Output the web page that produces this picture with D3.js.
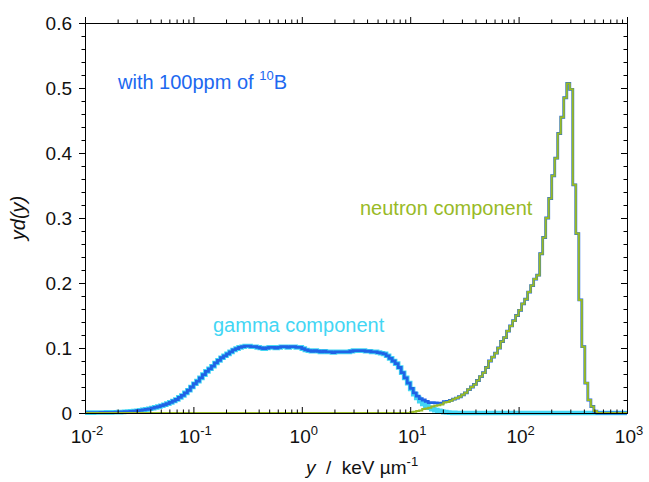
<!DOCTYPE html>
<html>
<head>
<meta charset="utf-8">
<script src="https://cdn.jsdelivr.net/npm/d3@7"></script>
<style>
  html, body { margin: 0; padding: 0; background: #fff; }
  svg { display: block; font-family: "Liberation Sans", Arial, sans-serif; }
</style>
</head>
<body>
<svg id="chart" width="649" height="482"></svg>
<script>
// ---------- data ----------
const binsPerDecade = 36;            // histogram bins per decade of y
const xDomain = [1e-2, 1e3];
const yDomain = [0, 0.6];
const xTickExponents = [-2, -1, 0, 1, 2, 3];
const yTickValues = [0, 0.1, 0.2, 0.3, 0.4, 0.5, 0.6];
const yTickLabels = ["0", "0.1", "0.2", "0.3", "0.4", "0.5", "0.6"];

// gamma component, starting at bin 0 (y = 0.01 keV/um)
const gammaStartBin = 0;
const gammaValues = [
  0.0005, 0.0006, 0.0006, 0.0007, 0.0007, 0.0008, 0.0008, 0.0009, 0.0010, 0.0011,
  0.0012, 0.0014, 0.0016, 0.0019, 0.0022, 0.0026, 0.0030, 0.0035, 0.0041, 0.0048,
  0.0056, 0.0065, 0.0075, 0.0086, 0.0098, 0.0112, 0.0127, 0.0144, 0.0163, 0.0185,
  0.0208, 0.024, 0.027, 0.031, 0.035, 0.040, 0.045, 0.049, 0.054, 0.059,
  0.064, 0.068, 0.072, 0.077, 0.081, 0.085, 0.088, 0.091, 0.094, 0.097,
  0.099, 0.101, 0.102, 0.103, 0.103, 0.102, 0.102, 0.101, 0.100, 0.099,
  0.100, 0.101, 0.101, 0.100, 0.101, 0.102, 0.102, 0.101, 0.102, 0.102,
  0.101, 0.101, 0.099, 0.097, 0.096, 0.095, 0.096, 0.095, 0.094, 0.095,
  0.094, 0.094, 0.093, 0.094, 0.094, 0.094, 0.094, 0.094, 0.095, 0.096,
  0.096, 0.096, 0.096, 0.095, 0.095, 0.094, 0.094, 0.093, 0.092, 0.091,
  0.088, 0.084, 0.080, 0.076, 0.070, 0.062, 0.054, 0.046, 0.037, 0.029,
  0.023, 0.018, 0.014, 0.011, 0.008, 0.006, 0.0045, 0.0032, 0.0022, 0.0014,
  0.0008, 0.0004, 0.0002
];

// neutron component, starting at bin 108 (y = 10 keV/um)
const neutronStartBin = 108;
const neutronValues = [
  0.001, 0.002, 0.003, 0.004, 0.006, 0.007, 0.008, 0.010, 0.011, 0.012,
  0.013, 0.016, 0.017, 0.019, 0.021, 0.023, 0.025, 0.028, 0.031, 0.036,
  0.040, 0.044, 0.050, 0.056, 0.062, 0.070, 0.080, 0.086, 0.092, 0.100,
  0.110, 0.116, 0.126, 0.134, 0.142, 0.150, 0.158, 0.168, 0.175, 0.186,
  0.196, 0.206, 0.212, 0.245, 0.270, 0.300, 0.330, 0.365, 0.392, 0.430,
  0.455, 0.485, 0.507, 0.498, 0.351, 0.276, 0.174, 0.102, 0.046, 0.020,
  0.010, 0.003
];

// ---------- layout ----------
const margin = { left: 85, right: 627, top: 23, bottom: 413 };
const colors = {
  gamma: "#43d6f4",
  total: "#1f63e6",
  neutron: "#98ba26",
  note: "#2068f0",
  axis: "#000"
};

const svg = d3.select("#chart");
const x = d3.scaleLog().domain(xDomain).range([margin.left, margin.right]);
const y = d3.scaleLinear().domain(yDomain).range([margin.bottom, margin.top]);

// bins
const nDecades = Math.log10(xDomain[1]) - Math.log10(xDomain[0]);
const nBins = Math.round(nDecades * binsPerDecade);
const edge = i => Math.pow(10, Math.log10(xDomain[0]) + i / binsPerDecade);

function fullSeries(start, vals) {
  const arr = new Array(nBins).fill(0);
  vals.forEach((v, k) => { if (start + k < nBins) arr[start + k] = v; });
  return arr;
}
const gamma = fullSeries(gammaStartBin, gammaValues);
const neutron = fullSeries(neutronStartBin, neutronValues);
const total = gamma.map((g, i) => g + neutron[i]);

function stepPoints(arr) {
  const pts = arr.map((v, i) => ({ x: edge(i), v }));
  pts.push({ x: edge(nBins), v: arr[nBins - 1] });
  return pts;
}
const line = d3.line().x(d => x(d.x)).y(d => y(d.v)).curve(d3.curveStepAfter);

const plot = svg.append("g");
plot.append("path").datum(stepPoints(gamma))
  .attr("d", line).attr("fill", "none")
  .attr("stroke", colors.gamma).attr("stroke-width", 4.6);
plot.append("path").datum(stepPoints(total))
  .attr("d", line).attr("fill", "none")
  .attr("stroke", colors.total).attr("stroke-width", 2.8);
plot.append("path").datum(stepPoints(neutron))
  .attr("d", line).attr("fill", "none")
  .attr("stroke", colors.neutron).attr("stroke-width", 2);

// ---------- axes ----------
const xMajor = xTickExponents.map(e => Math.pow(10, e));
const xMinor = [];
for (let e = -2; e < 3; e++) for (let m = 2; m <= 9; m++) xMinor.push(m * Math.pow(10, e));
const yMinor = d3.range(0, 0.6001, 0.02).map(v => +v.toFixed(2))
  .filter(v => Math.abs(v * 10 - Math.round(v * 10)) > 1e-6);

function styleAxis(g) {
  g.selectAll("path.domain").attr("stroke", colors.axis).attr("stroke-width", 1);
  g.selectAll(".tick line").attr("stroke", colors.axis).attr("stroke-width", 1);
  g.selectAll(".tick text").remove();
}

// bottom: ticks pointing up (inward)
svg.append("g").attr("transform", `translate(0,${margin.bottom})`)
  .call(d3.axisBottom(x).tickValues(xMajor).tickSizeInner(-6).tickSizeOuter(0).tickFormat(""))
  .call(styleAxis);
svg.append("g").attr("transform", `translate(0,${margin.bottom})`)
  .call(d3.axisBottom(x).tickValues(xMinor).tickSizeInner(-3.5).tickSizeOuter(0).tickFormat(""))
  .call(styleAxis);
// top: ticks pointing up (outward)
svg.append("g").attr("transform", `translate(0,${margin.top})`)
  .call(d3.axisTop(x).tickValues(xMajor).tickSizeInner(6).tickSizeOuter(0).tickFormat(""))
  .call(styleAxis);
svg.append("g").attr("transform", `translate(0,${margin.top})`)
  .call(d3.axisTop(x).tickValues(xMinor).tickSizeInner(3.5).tickSizeOuter(0).tickFormat(""))
  .call(styleAxis);
// left: ticks pointing left (outward)
svg.append("g").attr("transform", `translate(${margin.left},0)`)
  .call(d3.axisLeft(y).tickValues(yTickValues).tickSizeInner(6).tickSizeOuter(0).tickFormat(""))
  .call(styleAxis);
svg.append("g").attr("transform", `translate(${margin.left},0)`)
  .call(d3.axisLeft(y).tickValues(yMinor).tickSizeInner(3.5).tickSizeOuter(0).tickFormat(""))
  .call(styleAxis);
// right: ticks pointing left (inward)
svg.append("g").attr("transform", `translate(${margin.right},0)`)
  .call(d3.axisRight(y).tickValues(yTickValues).tickSizeInner(-6).tickSizeOuter(0).tickFormat(""))
  .call(styleAxis);
svg.append("g").attr("transform", `translate(${margin.right},0)`)
  .call(d3.axisRight(y).tickValues(yMinor).tickSizeInner(-3.5).tickSizeOuter(0).tickFormat(""))
  .call(styleAxis);

// tick labels
const tickFont = 19;
svg.append("g").selectAll("text").data(yTickValues).join("text")
  .attr("x", margin.left - 13).attr("y", d => y(d) + 6.5)
  .attr("text-anchor", "end").attr("font-size", tickFont).attr("fill", "#111")
  .text((d, i) => yTickLabels[i]);

const xl = svg.append("g").selectAll("text").data(xTickExponents).join("text")
  .attr("x", d => x(Math.pow(10, d)) + 2).attr("y", margin.bottom + 30)
  .attr("text-anchor", "middle").attr("font-size", tickFont).attr("fill", "#111");
xl.append("tspan").text("10");
xl.append("tspan").attr("font-size", 13).attr("dy", -8).text(d => String(d).replace("-", "-"));

// axis titles
const xt = svg.append("text").attr("x", 362).attr("y", 474)
  .attr("text-anchor", "middle").attr("font-size", 19).attr("fill", "#111");
xt.append("tspan").attr("font-style", "italic").text("y");
xt.append("tspan").attr("xml:space", "preserve").text("  /  keV \u00b5m");
xt.append("tspan").attr("font-size", 13).attr("dy", -8).text("-1");

svg.append("text")
  .attr("transform", `translate(25,${(margin.top + margin.bottom) / 2}) rotate(-90)`)
  .attr("text-anchor", "middle").attr("font-size", 20).attr("font-style", "italic")
  .attr("fill", "#111").text("yd(y)");

// annotations
const note = svg.append("text").attr("x", 118).attr("y", 89)
  .attr("font-size", 20).attr("fill", colors.note);
note.append("tspan").text("with 100ppm of ");
note.append("tspan").attr("font-size", 13).attr("dy", -9).text("10");
note.append("tspan").attr("dy", 9).text("B");

svg.append("text").attr("x", 213).attr("y", 332)
  .attr("font-size", 20).attr("fill", colors.gamma).text("gamma component");
svg.append("text").attr("x", 360).attr("y", 215)
  .attr("font-size", 20).attr("fill", colors.neutron).text("neutron component");
</script>
</body>
</html>
